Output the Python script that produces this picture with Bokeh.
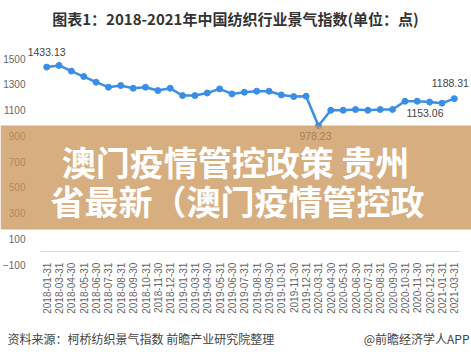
from bokeh.plotting import figure
from bokeh.models import Range1d, FixedTicker, Label, LabelSet, BoxAnnotation, ColumnDataSource
from bokeh.core.properties import value
from bokeh.embed import file_html
from bokeh.resources import INLINE
from math import pi

dates = ["2018-01-31", "2018-03-31", "2018-04-30", "2018-05-31", "2018-06-30", "2018-07-31",
         "2018-08-31", "2018-09-30", "2018-10-31", "2018-11-30", "2018-12-31",
         "2019-01-31", "2019-03-31", "2019-04-30", "2019-05-31", "2019-06-30", "2019-07-31",
         "2019-08-31", "2019-09-30", "2019-10-31", "2019-11-30", "2019-12-31",
         "2020-03-31", "2020-04-30", "2020-05-31", "2020-06-30", "2020-07-31", "2020-08-31",
         "2020-09-30", "2020-10-31", "2020-11-30", "2020-12-31", "2021-01-31", "2021-03-31"]
index_values = [1433.13, 1446, 1402, 1360, 1316, 1277, 1290, 1269, 1277, 1251, 1269,
                1212, 1212, 1232, 1264, 1225, 1238, 1246, 1246, 1217, 1204, 1207,
                978.23, 1098, 1098, 1104, 1098, 1104, 1104, 1168, 1168, 1162, 1153.06, 1188.31]
y_ticks = [1500, 1300, 1100, 900, 700, 500, 300, 100, -100]
labeled_points = [0, 22, 32, 33]

title_text = "图表1：2018-2021年中国纺织行业景气指数(单位：点)"
banner_lines = ["澳门疫情管控政策 贵州", "省最新（澳门疫情管控政"]
source_text = "资料来源：柯桥纺织景气指数 前瞻产业研究院整理"
brand_text = "@前瞻经济学人APP"

CJK = "Noto Sans CJK SC"
LATIN = "Liberation Sans"

W, H = 471, 357
# plotting area (canvas px): categories span x 40..460, values 1500 at y=58, -100 at y=264
PX_L, PX_R, PY_T, PY_B = 40.0, 460.0, 58.0, 264.0
n = len(dates)
step = (PX_R - PX_L) / n
x0 = -0.5 - PX_L / step
x1 = x0 + W / step
vpp = (1500 - (-100)) / (PY_B - PY_T)
y1 = 1500 + PY_T * vpp
y0 = -100 - (H - PY_B) * vpp

xs = list(range(n))

p = figure(width=W, height=H, output_backend="svg", toolbar_location=None, title=None,
           x_range=Range1d(x0, x1), y_range=Range1d(y0, y1),
           min_border=0, min_border_left=0, min_border_right=0,
           min_border_top=0, min_border_bottom=0)
p.outline_line_color = None
p.xgrid.grid_line_color = None
p.ygrid.grid_line_color = None
p.background_fill_color = "white"
p.border_fill_color = "white"

p.yaxis.fixed_location = -0.5
p.yaxis.ticker = FixedTicker(ticks=y_ticks)
p.yaxis.axis_line_color = None
p.yaxis.major_tick_line_color = None
p.yaxis.minor_tick_line_color = None
p.yaxis.major_label_standoff = 9
p.yaxis.major_label_text_font = LATIN
p.yaxis.major_label_text_font_size = "10px"
p.yaxis.major_label_text_color = "#666666"

p.xaxis.fixed_location = 0
p.xaxis.bounds = (-0.5, n - 0.5)
p.xaxis.ticker = FixedTicker(ticks=xs)
p.xaxis.major_label_overrides = {i: d for i, d in enumerate(dates)}
p.xaxis.axis_line_color = "#d9d9d9"
p.xaxis.major_tick_line_color = None
p.xaxis.minor_tick_line_color = None
p.xaxis.major_label_orientation = pi / 2
p.xaxis.major_label_standoff = 5
p.xaxis.major_label_text_font = LATIN
p.xaxis.major_label_text_font_size = "10px"
p.xaxis.major_label_text_color = "#666666"

p.line(xs, index_values, line_color="#3A8EE6", line_width=2.5)
p.scatter(xs, index_values, size=6, fill_color="#3A8EE6", line_color="#3A8EE6")

offsets = {0: (0, 15), 22: (-3, -10), 32: (-17, -10), 33: (-4, 16)}
lab_src = ColumnDataSource(dict(
    x=[xs[i] for i in labeled_points],
    y=[index_values[i] for i in labeled_points],
    t=[f"{index_values[i]:.2f}" for i in labeled_points],
    dx=[offsets[i][0] for i in labeled_points],
    dy=[offsets[i][1] for i in labeled_points]))
p.add_layout(LabelSet(x="x", y="y", text="t", x_offset="dx", y_offset="dy", source=lab_src,
                      text_align="center", text_baseline="middle",
                      text_font=value(LATIN), text_font_size=value("10.5px"),
                      text_color="#444444"))

def scr(cx, cy):
    return cx, H - cy

tx, ty = scr(235, 18)
p.add_layout(Label(x=tx, y=ty, x_units="screen", y_units="screen", text=title_text,
                   text_align="center", text_baseline="middle", text_font=CJK,
                   text_font_size="15px", text_font_style="bold", text_color="#333333"))

bl, bt = scr(0, 125)
br, bb = scr(W, 229)
p.add_layout(BoxAnnotation(left=bl, right=br, top=bt, bottom=bb,
                           left_units="screen", right_units="screen",
                           top_units="screen", bottom_units="screen",
                           fill_color="#C99355", fill_alpha=0.75, line_alpha=0))

for (cx, cy), line in zip([(235, 161), (237, 200)], banner_lines):
    lx, ly = scr(cx, cy)
    p.add_layout(Label(x=lx, y=ly, x_units="screen", y_units="screen", text=line,
                       text_align="center", text_baseline="middle", text_font=CJK,
                       text_font_size="34px", text_font_style="bold", text_color="white"))

sx, sy = scr(7, 338)
p.add_layout(Label(x=sx, y=sy, x_units="screen", y_units="screen", text=source_text,
                   text_align="left", text_baseline="middle", text_font=CJK,
                   text_font_size="12px", text_color="#444444"))
rx, ry = scr(469, 338)
p.add_layout(Label(x=rx, y=ry, x_units="screen", y_units="screen", text=brand_text,
                   text_align="right", text_baseline="middle", text_font=CJK,
                   text_font_size="12px", text_color="#444444"))

open("out.html", "w").write(file_html(p, INLINE))
